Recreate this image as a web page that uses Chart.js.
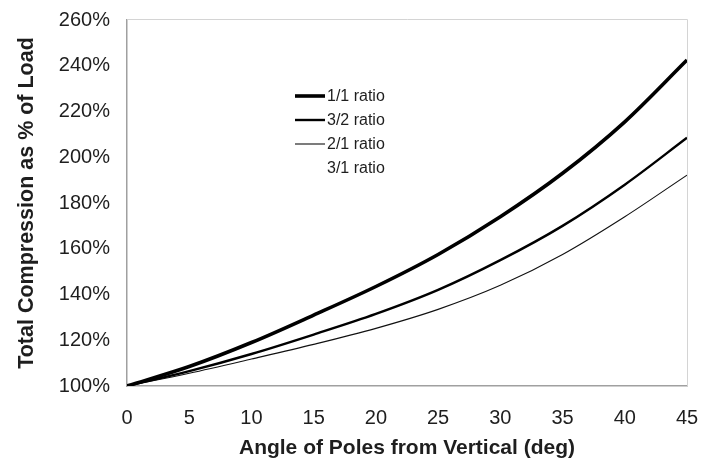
<!DOCTYPE html>
<html lang="en">
  <head>
    <meta charset="UTF-8">
    <title>Total Compression vs Pole Angle</title>
    <script src="https://cdn.jsdelivr.net/npm/chart.js@4.4.0/dist/chart.umd.min.js"></script>
    <style>
      html, body { margin: 0; padding: 0; background: #fff; }
      #wrap { width: 713px; height: 466px; }
    </style>
  </head>
  <body>
<div id="wrap">
  <canvas id="poles" width="713" height="466"></canvas>
</div>
<script>
// angle of poles (deg)
var angles = [0, 5, 10, 15, 20, 25, 30, 35, 40, 45];
// total compression as % of load
var ratio11 = [100, 108.5, 119, 131, 143.5, 157.5, 174, 193, 215.5, 242.5];
var ratio32 = [100, 106.5, 114, 122.5, 131.5, 142, 155, 170, 188, 208.5];
var ratio21 = [100, 105.6, 111.8, 118.2, 125.2, 133.5, 144, 157.5, 174, 192.2];
var ratio31 = []; // in the legend, no visible line

var xTicks = [0, 5, 10, 15, 20, 25, 30, 35, 40, 45];
var yTicks = [100, 120, 140, 160, 180, 200, 220, 240, 260];

function pts(ys) {
  return ys.map(function(y, i) { return {x: angles[i], y: y}; });
}

var txt = '#1e1e1e';
var fam = '"Liberation Sans", Arial, sans-serif';

// light frame round the plot area
var framePlugin = {
  id: 'frame',
  beforeDatasetsDraw: function(chart) {
    var a = chart.chartArea, c = chart.ctx;
    c.save();
    c.strokeStyle = '#d4d4d4';
    c.lineWidth = 1;
    c.beginPath();
    c.moveTo(a.left, a.top - 0.5);
    c.lineTo(a.right + 0.5, a.top - 0.5);
    c.lineTo(a.right + 0.5, a.bottom);
    c.stroke();
    c.restore();
  }
};

// legend drawn inside the plot like the original
var legendPlugin = {
  id: 'insideLegend',
  afterDatasetsDraw: function(chart) {
    var c = chart.ctx;
    var x0 = 295, x1 = 325, y0 = 96, dy = 24;
    c.save();
    c.font = '16px ' + fam;
    c.textBaseline = 'middle';
    chart.data.datasets.forEach(function(ds, i) {
      var y = y0 + i * dy;
      c.strokeStyle = ds.borderColor;
      c.lineWidth = ds.borderWidth;
      c.beginPath();
      c.moveTo(x0, y);
      c.lineTo(x1, y);
      c.stroke();
      c.fillStyle = txt;
      c.fillText(ds.label, x1 + 2, y + 1);
    });
    c.restore();
  }
};

var ctx = document.getElementById('poles').getContext('2d');
var chart = new Chart(ctx, {
  type: 'line',
  data: {
    datasets: [
      { label: '1/1 ratio', data: pts(ratio11), borderColor: '#000', borderWidth: 3.6 },
      { label: '3/2 ratio', data: pts(ratio32), borderColor: '#000', borderWidth: 2.4 },
      { label: '2/1 ratio', data: pts(ratio21), borderColor: '#111', borderWidth: 1.1 },
      { label: '3/1 ratio', data: ratio31, borderColor: '#fff', borderWidth: 1 }
    ]
  },
  options: {
    responsive: false,
    animation: false,
    layout: { padding: { top: 20, right: 26, left: 0, bottom: 0 } },
    elements: {
      point: { radius: 0 },
      line: { cubicInterpolationMode: 'monotone', fill: false }
    },
    plugins: {
      legend: { display: false },
      tooltip: { enabled: false }
    },
    scales: {
      x: {
        type: 'linear',
        min: 0,
        max: 45,
        afterBuildTicks: function(axis) {
          axis.ticks = xTicks.map(function(v) { return {value: v}; });
        },
        afterFit: function(axis) {
          axis.height = 80;
          axis.paddingLeft = 11;
          axis.paddingRight = 11;
        },
        grid: { display: false, drawTicks: false },
        border: { color: '#a0a0a0', width: 1.5 },
        ticks: {
          padding: 20,
          color: txt,
          font: { family: fam, size: 20 }
        },
        title: {
          display: true,
          text: 'Angle of Poles from Vertical (deg)',
          color: txt,
          font: { family: fam, size: 21, weight: 'bold' },
          padding: { top: 2, bottom: 5 }
        }
      },
      y: {
        min: 100,
        max: 260,
        afterBuildTicks: function(axis) {
          axis.ticks = yTicks.map(function(v) { return {value: v}; });
        },
        afterFit: function(axis) {
          axis.width = 127;
          axis.paddingTop = 12;
          axis.paddingBottom = 12;
        },
        grid: { display: false, drawTicks: false },
        border: { color: '#a0a0a0', width: 1.5 },
        ticks: {
          padding: 17,
          color: txt,
          font: { family: fam, size: 20 },
          callback: function(v) { return v + '%'; }
        },
        title: {
          display: true,
          text: 'Total Compression as % of Load',
          color: txt,
          font: { family: fam, size: 21.5, weight: 'bold' },
          padding: { top: 14, bottom: 2 }
        }
      }
    }
  },
  plugins: [framePlugin, legendPlugin]
});
</script>
  </body>
</html>
